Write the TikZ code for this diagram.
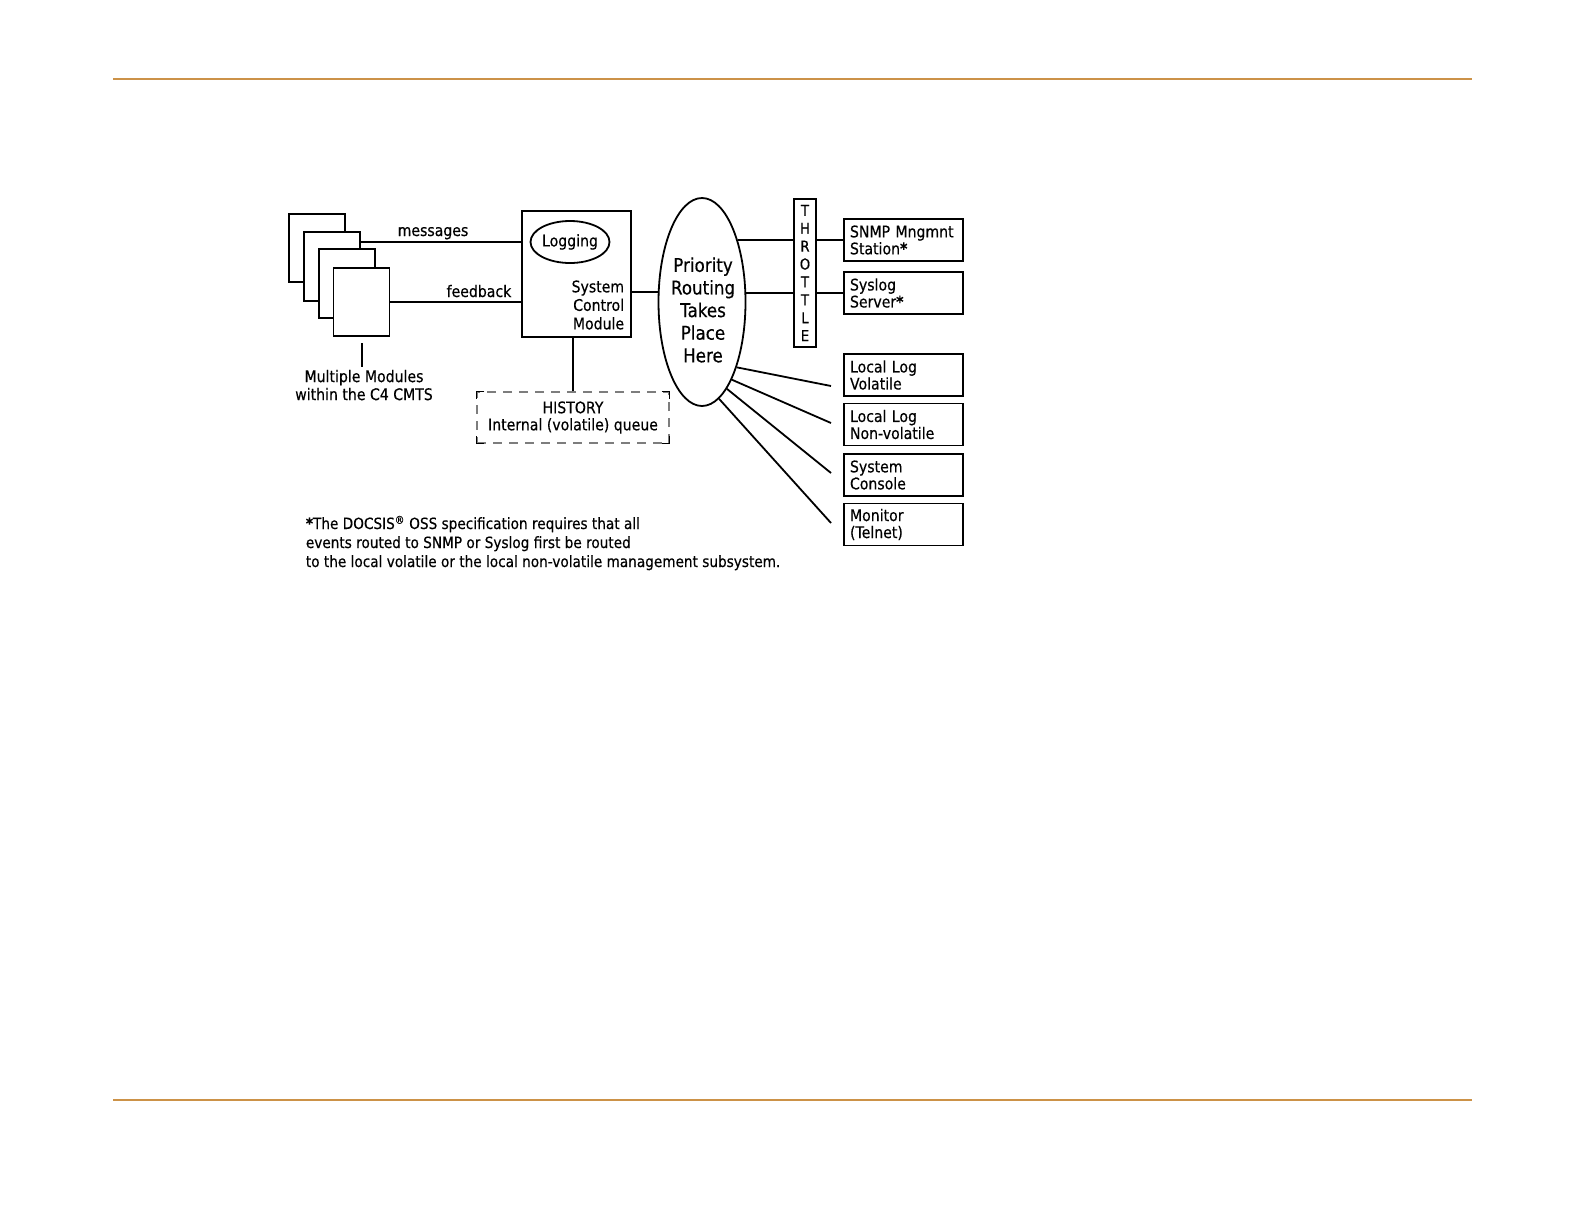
\documentclass[tikz,border=0pt]{standalone}
\usepackage{fontspec}
\setmainfont{DejaVu Sans}[FakeStretch=0.88,FakeBold=0.4]
\usetikzlibrary{shapes.geometric}
\definecolor{rulecol}{RGB}{204,146,72}
\definecolor{dashgray}{RGB}{125,125,125}
\begin{document}
\begin{tikzpicture}[x=1pt,y=-1pt,line width=1.8pt,
  mod/.style={draw,fill=white,minimum width=56pt,minimum height=68pt,inner sep=0pt},
  dest/.style={draw,minimum height=42pt,text width=107pt,inner xsep=6pt,inner ysep=0pt,align=left,font=\fontsize{16}{17}\selectfont},
  lbl/.style={font=\fontsize{16}{18}\selectfont,inner sep=0pt},
  corner/.style={line width=1.3pt},
  pagerule/.style={draw=rulecol,line width=1.5pt}]
\useasboundingbox (0,0) rectangle (1584,1224);
% page rules
\coordinate (r1a) at (113,79); \coordinate (r1b) at (1472,79);
\coordinate (r2a) at (113,1100); \coordinate (r2b) at (1472,1100);
\draw[pagerule] (r1a) -- (r1b);
\draw[pagerule] (r2a) -- (r2b);
% module stack
\node[mod] (m1) at (317,248) {};
\node[mod,minimum height=69pt] (m2) at (332,266.5) {};
\node[mod,minimum height=69pt] (m3) at (347,283.5) {};
\node[mod] (m4) at (361.5,302) {};
% system control module
\node[draw,minimum width=109pt,minimum height=126pt,inner sep=0pt] (scm) at (576.5,274) {};
\node[draw,ellipse,minimum width=74pt,minimum height=42pt,inner sep=0pt,lbl] (log) at (570,242) {Logging};
\node[lbl,align=right,anchor=east,font=\fontsize{16}{18.5}\selectfont] (scmtxt) at (625,305) {System\\Control\\Module};
% connectors modules -> scm
\draw (m2.east |- log) -- (log -| scm.west);
\draw (m4.east) -- (m4.east -| scm.west);
\node[lbl,anchor=base] (msg) at (433,236) {messages};
\node[lbl,anchor=base] (fb) at (479,297) {feedback};
% multiple modules label
\coordinate (mmtop) at (362,343);
\coordinate (mmbot) at (362,367);
\draw (mmtop) -- (mmbot);
\node[lbl,align=center,anchor=north] (mmlbl) at (364,369) {Multiple Modules\\within the C4 CMTS};
% history
\node[draw=dashgray,dash pattern=on 9pt off 7pt,line width=1.3pt,minimum width=192pt,minimum height=51pt,inner sep=0pt,align=center,font=\fontsize{16}{17}\selectfont] (hist) at (573,417.5) {HISTORY\\Internal (volatile) queue};
\draw[corner] ([xshift=8pt]hist.north west) -| ([yshift=-8pt]hist.north west);
\draw[corner] ([xshift=-8pt]hist.north east) -| ([yshift=-8pt]hist.north east);
\draw[corner] ([xshift=8pt]hist.south west) -| ([yshift=8pt]hist.south west);
\draw[corner] ([xshift=-8pt]hist.south east) -| ([yshift=8pt]hist.south east);
\draw (hist.north) -- (hist.north |- scm.south);
% priority routing ellipse
\node[draw,ellipse,minimum width=87pt,minimum height=208pt,inner sep=0pt] (ell) at (702,302) {};
\node[align=center,inner sep=0pt,font=\fontsize{19}{22.6}\selectfont] (prt) at (703,310) {Priority\\Routing\\Takes\\Place\\Here};
\coordinate (e0) at (ell.167.4);
\draw (e0) -- (e0 -| scm.east);
% throttle
\node[draw,minimum width=22pt,minimum height=148pt,inner sep=0pt,align=center,font=\fontsize{15}{17.9}\selectfont] (thr) at (805,273) {T\\H\\R\\O\\T\\T\\L\\E};
% destinations
\node[dest] (snmp) at (903.5,240) {SNMP Mngmnt\\Station\textbf{*}};
\node[dest] (sys) at (903.5,293) {Syslog\\Server\textbf{*}};
\node[dest] (llv) at (903.5,375) {Local Log\\Volatile};
\node[dest] (llnv) at (903.5,424.5) {Local Log\\Non-volatile};
\node[dest] (con) at (903.5,475) {System\\Console};
\node[dest] (mon) at (903.5,524.5) {Monitor\\(Telnet)};
% throttled connectors
\coordinate (e1) at (ell.59.8 |- snmp.west);
\coordinate (e2) at (ell.11.4 |- sys.west);
\draw (e1) -- (e1 -| thr.west);
\draw (thr.east |- snmp.west) -- (snmp.west);
\draw (e2) -- (e2 -| thr.west);
\draw (thr.east |- sys.west) -- (sys.west);
% fan connectors
\coordinate (f1) at (831,386);
\coordinate (f2) at (831,423);
\coordinate (f3) at (831,473);
\coordinate (f4) at (831,523);
\draw (ell.-62.4) -- (f1);
\draw (ell.-69) -- (f2);
\draw (ell.-74.1) -- (f3);
\draw (ell.-80.9) -- (f4);
% footnote
\node[anchor=north west,align=left,inner sep=0pt,font=\fontsize{15.5}{19}\selectfont] (foot) at (305,515) {\textbf{*}The DOCSIS\textsuperscript{®} OSS specification requires that all\\events routed to SNMP or Syslog first be routed\\to the local volatile or the local non-volatile management subsystem.};
\end{tikzpicture}
\end{document}
